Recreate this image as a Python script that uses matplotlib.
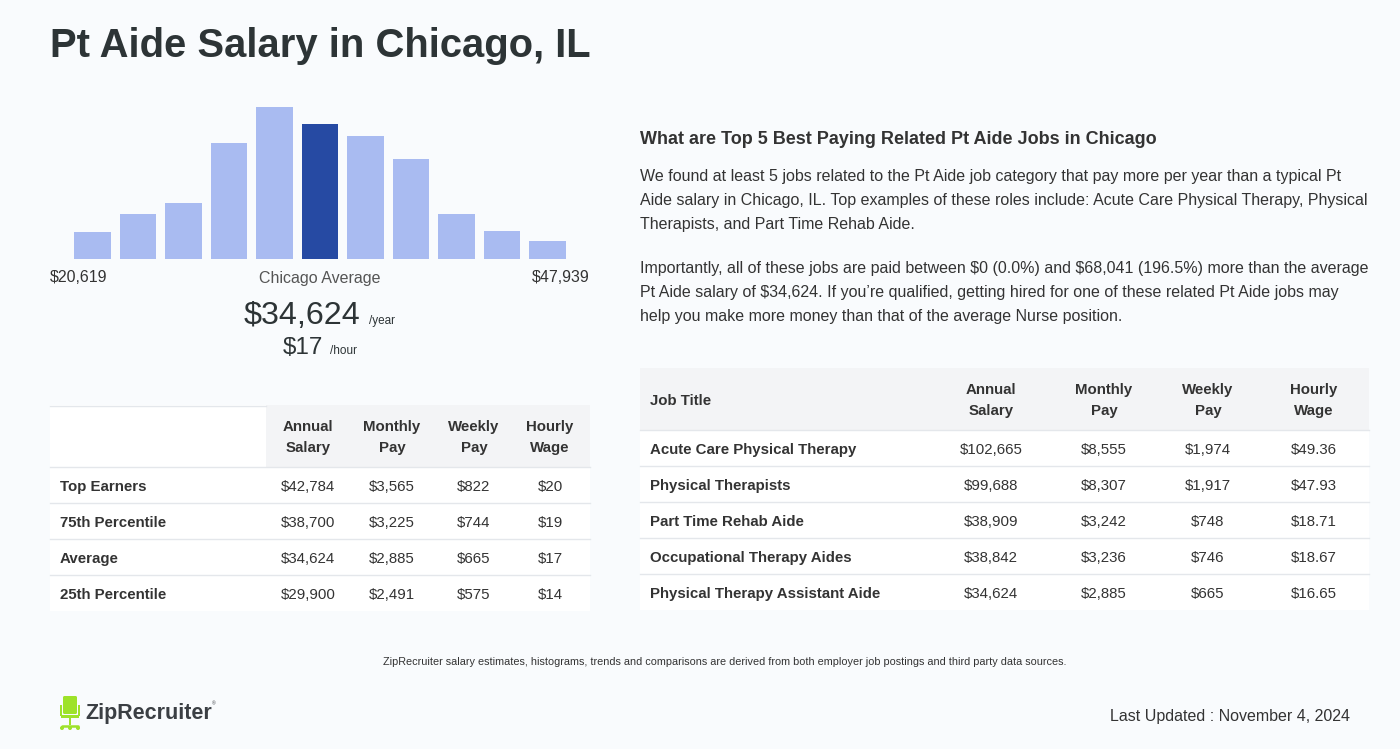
import matplotlib
matplotlib.use("Agg")
import matplotlib.pyplot as plt
from matplotlib.patches import Rectangle, FancyBboxPatch

plt.rcParams['font.family'] = ['Liberation Sans', 'DejaVu Sans']
plt.rcParams['text.parse_math'] = False

# ---- data ----
title = "Pt Aide Salary in Chicago, IL"
hist_heights = [27, 45, 56, 116, 152, 135, 123, 100, 45, 28, 18]
highlight_bin = 5
range_low = "$20,619"
range_high = "$47,939"
avg_year = "$34,624"
avg_hour = "$17"

pay_columns = [("Annual", "Salary"), ("Monthly", "Pay"), ("Weekly", "Pay"), ("Hourly", "Wage")]
pct_labels = ["Top Earners", "75th Percentile", "Average", "25th Percentile"]
pct_annual = ["$42,784", "$38,700", "$34,624", "$29,900"]
pct_monthly = ["$3,565", "$3,225", "$2,885", "$2,491"]
pct_weekly = ["$822", "$744", "$665", "$575"]
pct_hourly = ["$20", "$19", "$17", "$14"]

related_heading = "What are Top 5 Best Paying Related Pt Aide Jobs in Chicago"
para1 = [
    "We found at least 5 jobs related to the Pt Aide job category that pay more per year than a typical Pt",
    "Aide salary in Chicago, IL. Top examples of these roles include: Acute Care Physical Therapy, Physical",
    "Therapists, and Part Time Rehab Aide.",
]
para2 = [
    "Importantly, all of these jobs are paid between $0 (0.0%) and $68,041 (196.5%) more than the average",
    "Pt Aide salary of $34,624. If you\u2019re qualified, getting hired for one of these related Pt Aide jobs may",
    "help you make more money than that of the average Nurse position.",
]
job_titles = ["Acute Care Physical Therapy", "Physical Therapists", "Part Time Rehab Aide",
              "Occupational Therapy Aides", "Physical Therapy Assistant Aide"]
job_annual = ["$102,665", "$99,688", "$38,909", "$38,842", "$34,624"]
job_monthly = ["$8,555", "$8,307", "$3,242", "$3,236", "$2,885"]
job_weekly = ["$1,974", "$1,917", "$748", "$746", "$665"]
job_hourly = ["$49.36", "$47.93", "$18.71", "$18.67", "$16.65"]

footnote = ("ZipRecruiter salary estimates, histograms, trends and comparisons are derived "
            "from both employer job postings and third party data sources.")
updated = "Last Updated : November 4, 2024"

# ---- colours ----
BG = "#f9fbfd"
DARK = "#2d3436"
TEXT = "#333333"
GREY_TEXT = "#555555"
HEAD_BG = "#f3f4f6"
LINE = "#e4e7eb"
BAR_LIGHT = "#a9bbf1"
BAR_DARK = "#264aa3"

W, H = 1400, 749
fig = plt.figure(figsize=(W / 100, H / 100), dpi=100, facecolor=BG)

# full-figure canvas in pixel coordinates (y downwards)
bg = fig.add_axes([0, 0, 1, 1])
bg.set_xlim(0, W)
bg.set_ylim(H, 0)
bg.axis("off")


def px_axes(left, top, right, bottom):
    return fig.add_axes([left / W, 1 - bottom / H, (right - left) / W, (bottom - top) / H])


def txt(x, y, s, **kw):
    # matplotlib centres on the full glyph box; nudge down to match browser baseline
    kw.setdefault("va", "center")
    kw.setdefault("color", TEXT)
    return bg.text(x, y + 2, s, **kw)


txt(50, 44, title, fontsize=28.8, fontweight="bold", color=DARK, ha="left")

# ---- histogram ----
hax = px_axes(50, 100, 590, 259)
colors = [BAR_DARK if i == highlight_bin else BAR_LIGHT for i in range(len(hist_heights))]
hax.bar(range(len(hist_heights)), hist_heights, width=0.81, color=colors)
hax.set_xlim(-0.934, len(hist_heights) - 1 + 0.934)
hax.set_ylim(0, 159)
hax.axis("off")

txt(50, 276, range_low, fontsize=11.5, ha="left")
txt(320, 276, "Chicago Average", fontsize=11.5, color=GREY_TEXT, ha="center")
txt(590, 276, range_high, fontsize=11.5, ha="right")

txt(360, 314, avg_year, fontsize=23.2, color=DARK, ha="right")
txt(369, 319, "/year", fontsize=8.5, color=DARK, ha="left")
txt(323, 346, avg_hour, fontsize=17.5, color=DARK, ha="right")
txt(330, 349, "/hour", fontsize=8.5, color=DARK, ha="left")

# ---- percentile table ----
bg.add_patch(Rectangle((50, 405), 540, 206, facecolor="white", edgecolor="none"))
bg.add_patch(Rectangle((266, 405), 324, 62, facecolor=HEAD_BG, edgecolor="none"))
bg.plot([50, 266], [405.5, 405.5], color=LINE, lw=1)
pct_cols_x = [308, 392, 474, 550]
for cx, (l1, l2) in zip(pct_cols_x, pay_columns):
    txt(cx, 425, l1, fontsize=10.8, fontweight="bold", ha="center")
    txt(cx, 446, l2, fontsize=10.8, fontweight="bold", ha="center")
for i, label in enumerate(pct_labels):
    y0 = 467 + 36 * i
    bg.plot([50, 590], [y0, y0], color=LINE, lw=1)
    yc = y0 + 18
    txt(60, yc, label, fontsize=10.8, fontweight="bold", ha="left")
    for cx, vals in zip(pct_cols_x, [pct_annual, pct_monthly, pct_weekly, pct_hourly]):
        txt(cx, yc, vals[i], fontsize=10.8, ha="center")

# ---- related jobs text ----
txt(640, 138, related_heading, fontsize=13, fontweight="bold", ha="left")
for i, line in enumerate(para1):
    txt(640, 175 + 24 * i, line, fontsize=11.5, ha="left")
for i, line in enumerate(para2):
    txt(640, 267 + 24 * i, line, fontsize=11.5, ha="left")

# ---- related jobs table ----
bg.add_patch(Rectangle((640, 368), 729, 242, facecolor="white", edgecolor="none"))
bg.add_patch(Rectangle((640, 368), 729, 62, facecolor=HEAD_BG, edgecolor="none"))
job_cols_x = [991, 1104, 1208, 1314]
txt(650, 399, "Job Title", fontsize=10.8, fontweight="bold", ha="left")
for cx, (l1, l2) in zip(job_cols_x, pay_columns):
    txt(cx, 388, l1, fontsize=10.8, fontweight="bold", ha="center")
    txt(cx, 409, l2, fontsize=10.8, fontweight="bold", ha="center")
for i, job in enumerate(job_titles):
    y0 = 430 + 36 * i
    bg.plot([640, 1369], [y0, y0], color=LINE, lw=1)
    yc = y0 + 18
    txt(650, yc, job, fontsize=10.8, fontweight="bold", ha="left")
    for cx, vals in zip(job_cols_x, [job_annual, job_monthly, job_weekly, job_hourly]):
        txt(cx, yc, vals[i], fontsize=10.8, ha="center")

# ---- footer ----
txt(725, 660, footnote, fontsize=7.85, ha="center")
txt(1350, 714, updated, fontsize=11.5, ha="right")

# logo: chair + wordmark
LIME = "#9ee22a"
bg.add_patch(FancyBboxPatch((63, 696), 14, 18, boxstyle="round,pad=0,rounding_size=1.5",
                            facecolor=LIME, edgecolor="none"))
bg.add_patch(Rectangle((60, 705), 2, 11, facecolor=LIME, edgecolor="none"))
bg.add_patch(Rectangle((78, 705), 2, 11, facecolor=LIME, edgecolor="none"))
bg.add_patch(Rectangle((61, 715), 18, 2.5, facecolor=LIME, edgecolor="none"))
bg.add_patch(Rectangle((69, 717), 2, 8, facecolor=LIME, edgecolor="none"))
bg.plot([62, 78], [725.5, 725.5], color=LIME, lw=1.8, solid_capstyle="round")
for bx in (62, 70, 78):
    bg.add_patch(plt.Circle((bx, 728), 1.3, color=LIME))
txt(85, 711, "ZipRecruiter", fontsize=15.5, fontweight="bold", color="#3b3f44", ha="left")
bg.text(212, 704, "\u00ae", fontsize=3.5, color="#3b3f44", ha="left", va="center")

fig.savefig("out.png", dpi=100, facecolor=BG)
